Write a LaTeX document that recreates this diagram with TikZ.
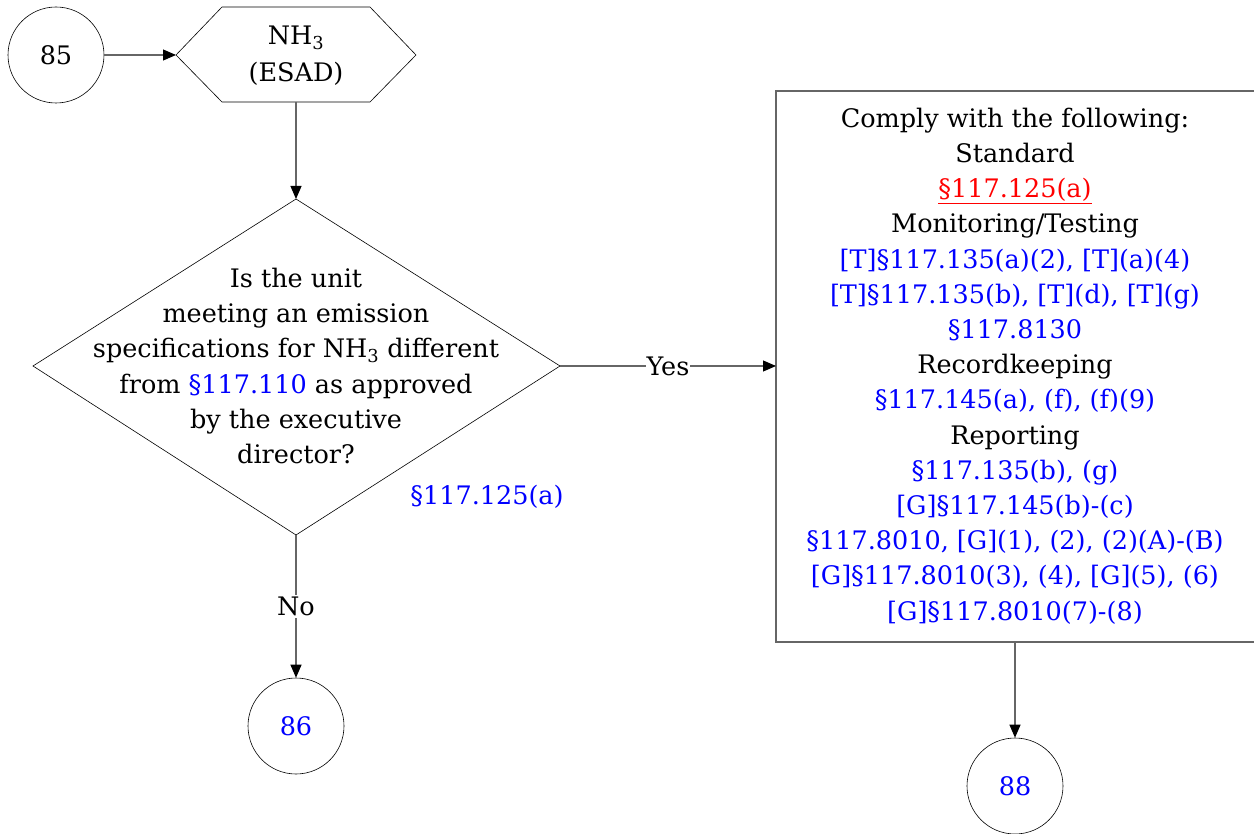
\documentclass[tikz,border=0pt]{standalone}
\usepackage{fontspec}
\setmainfont{DejaVu Serif}
\usetikzlibrary{shapes.geometric,arrows.meta}
\definecolor{refblue}{RGB}{0,0,255}
\definecolor{refred}{RGB}{255,0,0}
\tikzset{
  x=1pt,y=-1pt,
  every node/.style={font=\fontsize{25.5}{35.2}\selectfont, inner sep=0pt},
  conn/.style={draw=black!60, line width=1.1pt},
  arr/.style={conn, -{Triangle[length=13pt,width=11pt,color=black]}},
  term/.style={circle, draw=black, line width=0.6pt, minimum size=96pt},
  blue/.style={text=refblue},
}
\begin{document}
\begin{tikzpicture}
\useasboundingbox (0,0) rectangle (1254,834);
\fill[white] (0,0) rectangle (1254,834);
% circle 85
\node[term] (c85) at (56,55) {85};
% hexagon
\draw[line width=0.6pt] (176,55) -- (222,7) -- (370,7) -- (416,55) -- (370,102) -- (222,102) -- cycle;
\node[align=center, font=\fontsize{25.5}{37}\selectfont] (hex) at (296,56) {NH\textsubscript{3}\\(ESAD)};
\coordinate (hexL) at (176,55);
\coordinate (hexB) at (296,102);
% diamond
\draw[line width=0.6pt] (296,199) -- (560,366) -- (296,535) -- (33,366) -- cycle;
\coordinate (dT) at (296,199);
\coordinate (dR) at (560,366);
\coordinate (dB) at (296,535);
\node[align=center] (dq) at (296,366) {Is the unit\\meeting an emission\\specifications for NH\textsubscript{3} different\\from \textcolor{refblue}{§117.110} as approved\\by the executive\\director?};
\node[blue] (ref1) at (487,497) {§117.125(a)};
% box
\draw[draw=black!60, line width=1.1pt] (776,91) rectangle (1262,642);
\coordinate (bL) at (776,366);
\coordinate (bB) at (1015,642);
\node[align=center] (bx) at (1015,366) {Comply with the following:\\Standard\\\textcolor{refred}{\underline{§117.125(a)}}\\Monitoring/Testing\\
\textcolor{refblue}{[T]§117.135(a)(2), [T](a)(4)}\\
\textcolor{refblue}{[T]§117.135(b), [T](d), [T](g)}\\
\textcolor{refblue}{§117.8130}\\
Recordkeeping\\
\textcolor{refblue}{§117.145(a), (f), (f)(9)}\\
Reporting\\
\textcolor{refblue}{§117.135(b), (g)}\\
\textcolor{refblue}{[G]§117.145(b)-(c)}\\
\textcolor{refblue}{§117.8010, [G](1), (2), (2)(A)-(B)}\\
\textcolor{refblue}{[G]§117.8010(3), (4), [G](5), (6)}\\
\textcolor{refblue}{[G]§117.8010(7)-(8)}};
% terminals
\node[term, blue] (c86) at (296,726) {86};
\node[term, blue] (c88) at (1015,786) {88};
% connectors
\draw[arr] (c85) -- (hexL);
\draw[arr] (hexB) -- (dT);
\draw[arr] (dR) -- node[fill=white, inner sep=1pt] {Yes} (bL);
\draw[arr] (dB) -- node[fill=white, inner sep=2pt] {No} (c86);
\draw[arr] (bB) -- (c88);
\end{tikzpicture}
\end{document}
